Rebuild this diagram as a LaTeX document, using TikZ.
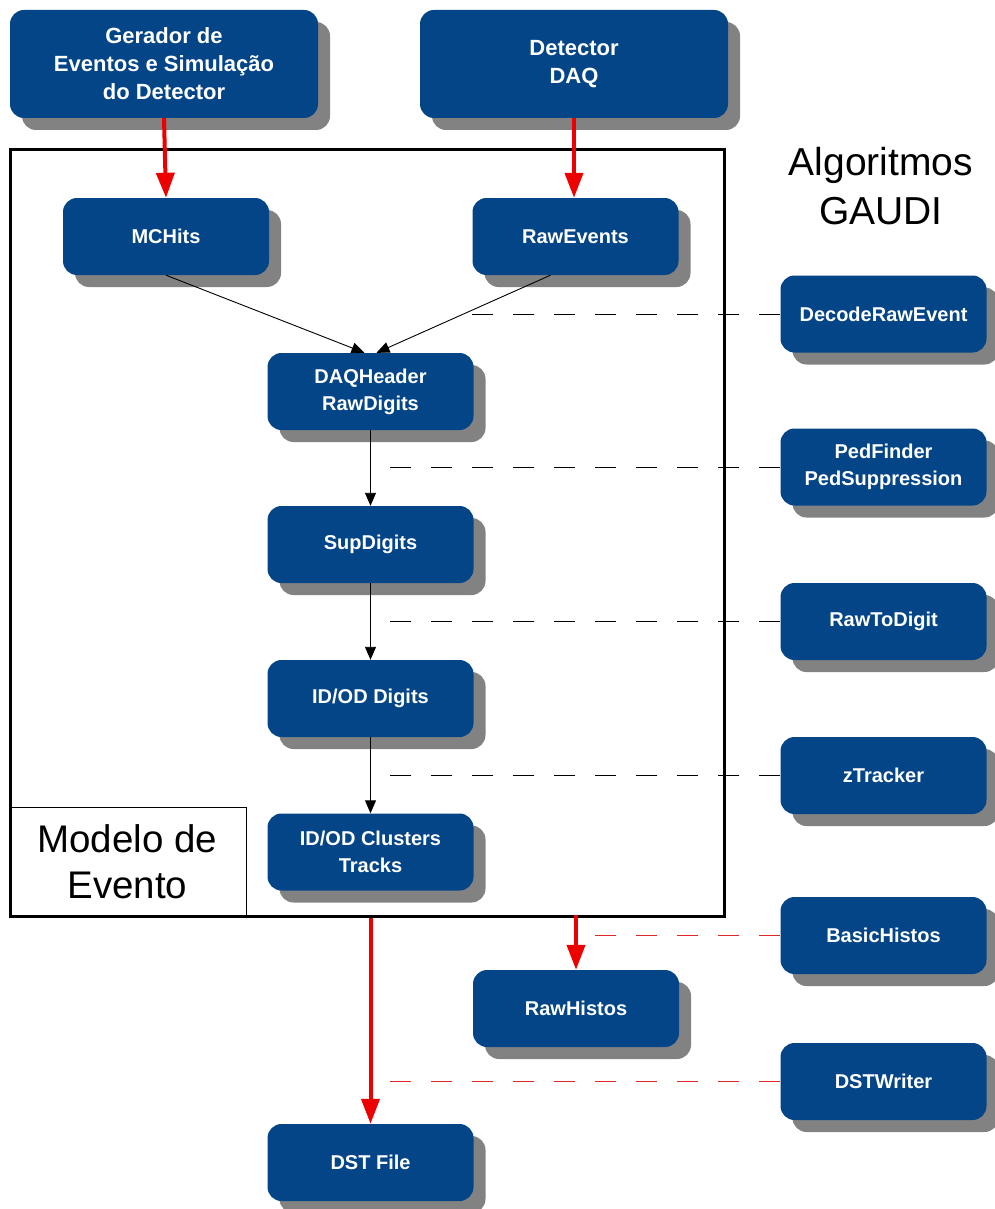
\documentclass[tikz,border=0pt]{standalone}
\usepackage{fontspec}
\setmainfont{Liberation Sans}
\usetikzlibrary{arrows.meta,shadows}
\definecolor{boxblue}{RGB}{4,69,135}
\definecolor{shadowgray}{RGB}{130,130,130}
\definecolor{flowred}{RGB}{236,0,0}
\definecolor{dashred}{RGB}{222,40,40}

\begin{document}
\begin{tikzpicture}[x=1pt,y=-1pt,
  blk/.style={rounded corners=14pt, fill=boxblue, text=white,
    font=\bfseries\fontsize{20}{27}\selectfont, align=center, inner sep=0pt,
    minimum height=77pt, minimum width=206pt,
    drop shadow={shadow xshift=12pt, shadow yshift=-12pt, opacity=1, fill=shadowgray}},
  srcbox/.style={blk, minimum width=308pt, minimum height=108pt,
    font=\bfseries\fontsize{22}{28}\selectfont},
  flow/.style={draw=flowred, line width=4pt, -{Triangle[length=25pt,width=18pt]}},
  link/.style={draw=black, line width=0.9pt, -{Triangle[length=13pt,width=11pt]}},
  algline/.style={draw=black, line width=0.9pt, dash pattern=on 21pt off 20pt},
  outline/.style={draw=dashred, line width=1pt, dash pattern=on 21pt off 20pt},
  bigtext/.style={font=\fontsize{38.5}{46}\selectfont, align=center}
]
\useasboundingbox (0,0) rectangle (995,1209);

% event model frame
\node[draw, line width=3pt, minimum width=714pt, minimum height=766pt, inner sep=0pt] (frame) at (367,533) {};
\node[draw, line width=0.8pt, minimum width=237pt, minimum height=110pt, inner sep=0pt,
      anchor=south west, bigtext] (modelo) at (frame.south west) {Modelo de\\Evento};

\node[bigtext, font=\fontsize{39}{49}\selectfont] (alg) at (881,186) {Algoritmos\\GAUDI};

% sources
\node[srcbox] (gen) at (164,64) {Gerador de\\Eventos e Simulação\\do Detector};
\node[srcbox] (det) at (574,64) {Detector\\DAQ};

% event data
\node[blk] (mch) at (166,236.5) {MCHits};
\node[blk] (rawev) at (575.5,236.5) {RawEvents};
\node[blk] (daq) at (370.5,391.5) {DAQHeader\\RawDigits};
\node[blk] (sup) at (370.5,544.5) {SupDigits};
\node[blk] (idod) at (370.5,698.5) {ID/OD Digits};
\node[blk] (clus) at (370.5,852) {ID/OD Clusters\\Tracks};
\node[blk] (rawh) at (576,1008.5) {RawHistos};
\node[blk] (dst) at (370.5,1162.5) {DST File};

% algorithms
\node[blk] (decode) at (883.5,314) {DecodeRawEvent};
\node[blk] (ped) at (883.5,467) {PedFinder\\PedSuppression};
\node[blk] (r2d) at (883.5,621.5) {RawToDigit};
\node[blk] (ztr) at (883.5,775.5) {zTracker};
\node[blk] (bh) at (883.5,935.5) {BasicHistos};
\node[blk] (dstw) at (883.5,1081.5) {DSTWriter};

% data flow
\draw[flow] (gen.south) -- (mch.north);
\draw[flow] (det.south) -- (det.south |- rawev.north);
\draw[link] (mch.south) -- ([xshift=-6pt]daq.north);
\draw[link] ([xshift=-25pt]rawev.south) -- ([xshift=6pt]daq.north);
\draw[link] (daq.south) -- (sup.north);
\draw[link] (sup.south) -- (idod.north);
\draw[link] (idod.south) -- (clus.north);
\draw[flow] (frame.south -| dst.north) -- (dst.north);
\draw[flow] ([yshift=3pt]frame.south -| rawh.north) -- (rawh.north);

% algorithm markers
\coordinate (e1) at (472,314);
\coordinate (e2) at (390,467);
\coordinate (e3) at (390,621.5);
\coordinate (e4) at (390,775.5);
\coordinate (e5) at (595,935.5);
\coordinate (e6) at (390,1081.5);
\draw[algline] (decode.west) -- (e1);
\draw[algline] (ped.west) -- (e2);
\draw[algline] (r2d.west) -- (e3);
\draw[algline] (ztr.west) -- (e4);
\draw[outline] (bh.west) -- (e5);
\draw[outline] (dstw.west) -- (e6);
\end{tikzpicture}
\end{document}
